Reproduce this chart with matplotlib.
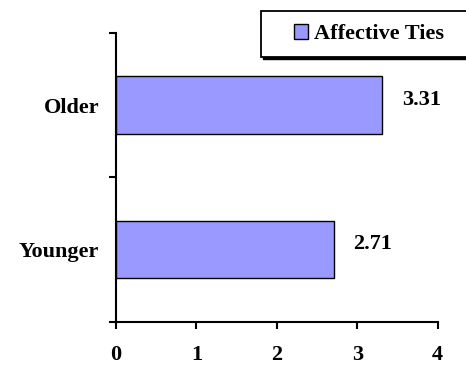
import matplotlib
matplotlib.use('Agg')
import matplotlib.pyplot as plt
from matplotlib.patches import Rectangle

# dados do grafico
groups = ['Younger', 'Older']
affective = [2.71, 3.31]
value_labels = ['2.71', '3.31']
series_name = 'Affective Ties'
x_ticks = [0, 1, 2, 3, 4]

plt.rcParams['font.family'] = 'Liberation Serif'
plt.rcParams['font.weight'] = 'bold'
plt.rcParams['font.size'] = 16

W, H = 466, 367
fig = plt.figure(figsize=(W / 100, H / 100), dpi=100)
ax = fig.add_axes([116 / W, 1 - 321.7 / H, (437.7 - 116) / W, (321.7 - 33) / H])

pos = list(range(len(groups)))
ax.barh(pos, affective, height=0.4, color='#9999FF', edgecolor='black',
        linewidth=1.0, label=series_name, zorder=3)

for p, v, lab in zip(pos, affective, value_labels):
    ax.annotate(lab, xy=(v, p), xytext=(14, 4), textcoords='offset points',
                ha='left', va='center', fontweight='bold', fontsize=16)

ax.set_xlim(0, 4)
ax.set_ylim(-0.5, 1.5)
ax.set_xticks(x_ticks)
ax.set_xticklabels([str(t) for t in x_ticks])
ax.set_yticks(pos)
ax.set_yticklabels(groups)
ax.set_yticks([-0.5, 0.5, 1.5], minor=True)

ax.tick_params(axis='y', which='major', length=0, pad=12)
ax.tick_params(axis='y', which='minor', length=5, width=1.5, direction='out')
ax.tick_params(axis='x', length=5, width=1.5, direction='out', pad=12)

for s in ['top', 'right']:
    ax.spines[s].set_visible(False)
for s in ['left', 'bottom']:
    ax.spines[s].set_linewidth(1.5)

# caixa da legenda com sombra
x0, y0, x1, y1 = 261, 11, 470, 57
shadow = Rectangle((x0 / W + 2 / W, 1 - y1 / H - 2 / H), (x1 - x0) / W, (y1 - y0) / H,
                   transform=fig.transFigure, facecolor='black', edgecolor='black', zorder=5)
box = Rectangle((x0 / W, 1 - y1 / H), (x1 - x0) / W, (y1 - y0) / H,
                transform=fig.transFigure, facecolor='white', edgecolor='black',
                linewidth=1.3, zorder=6)
fig.patches.extend([shadow, box])

leg = fig.legend(loc='center left', bbox_to_anchor=(294 / W, 1 - 34 / H),
                 frameon=False, handlelength=0.65, handleheight=0.65,
                 handletextpad=0.25, borderpad=0, borderaxespad=0,
                 prop={'weight': 'bold', 'size': 16, 'family': 'Liberation Serif'})
leg.set_zorder(7)

fig.savefig('out.png', dpi=100)
